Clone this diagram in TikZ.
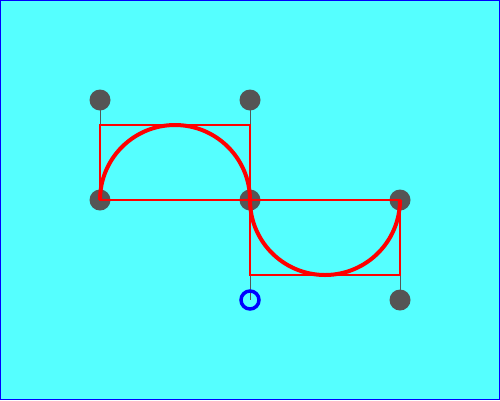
\documentclass[tikz,border=0pt]{standalone}
\definecolor{bgc}{HTML}{55FFFF}
\definecolor{dotc}{HTML}{555555}
\begin{document}
\begin{tikzpicture}[x=1pt,y=-1pt,
  dotn/.style={circle,fill=dotc,inner sep=0pt,minimum size=21pt},
  ringn/.style={circle,draw=blue,line width=3.5pt,inner sep=0pt,minimum size=18pt},
  stem/.style={draw=dotc,line width=1pt},
  boxr/.style={draw=red,line width=2pt},
  curve/.style={draw=red,line width=4pt}]
\fill[bgc] (0,0) rectangle (500,400);
\draw[blue,line width=1pt] (0.5,0.5) rectangle (499.5,399.5);
\useasboundingbox (0,0) rectangle (500,400);
\node[dotn] (p1) at (100,100) {};
\node[dotn] (p2) at (250,100) {};
\node[dotn] (p3) at (100,200) {};
\node[dotn] (p4) at (250,200) {};
\node[dotn] (p5) at (400,200) {};
\node[dotn] (p7) at (400,300) {};
\coordinate (c1) at (100,125);
\coordinate (c2) at (250,125);
\coordinate (c3) at (250,275);
\coordinate (c4) at (400,275);
\draw[stem] (p1.center) -- (c1);
\draw[stem] (p2.center) -- (c2);
\draw[stem] (c3) -- (250,300);
\draw[stem] (p7.center) -- (c4);
\draw[boxr] (c1) rectangle (p4.center);
\draw[boxr] (p4.center) rectangle (c4);
\node[ringn] (p6) at (250,300) {};
\draw[curve] (p3.center) arc[start angle=180,end angle=360,radius=75];
\draw[curve] (p4.center) arc[start angle=180,end angle=0,radius=75];
\end{tikzpicture}
\end{document}
